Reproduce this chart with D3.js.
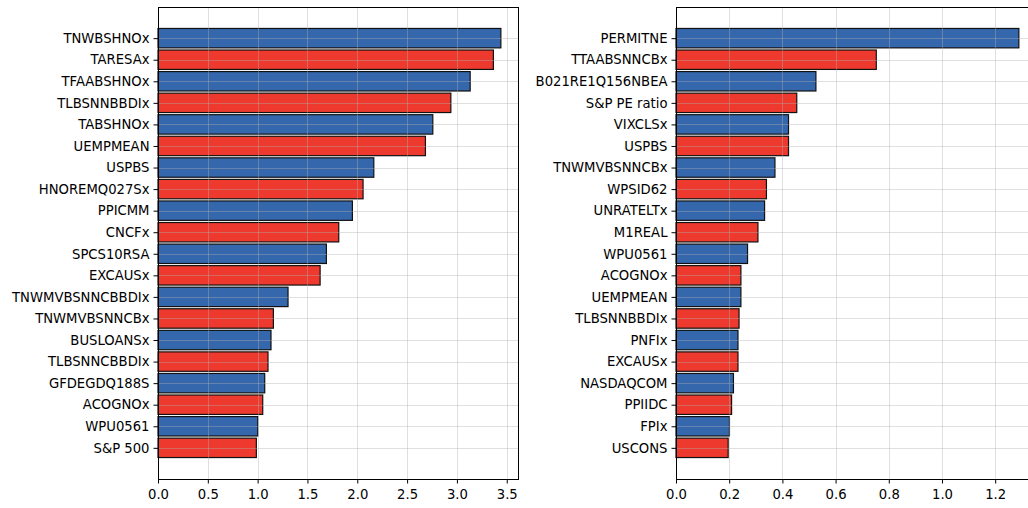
<!DOCTYPE html>
<html>
<head>
<meta charset="utf-8">
<script src="https://cdn.jsdelivr.net/npm/d3@7"></script>
<style>
  html, body { margin: 0; padding: 0; background: #fff; }
  svg { display: block; }
  text { font-family: "DejaVu Sans", sans-serif; }
</style>
</head>
<body>
<svg id="chart" width="1028" height="508"></svg>
<script>
// Feature importance, left panel
const leftNames = ["TNWBSHNOx", "TARESAx", "TFAABSHNOx", "TLBSNNBBDIx", "TABSHNOx",
  "UEMPMEAN", "USPBS", "HNOREMQ027Sx", "PPICMM", "CNCFx", "SPCS10RSA", "EXCAUSx",
  "TNWMVBSNNCBBDIx", "TNWMVBSNNCBx", "BUSLOANSx", "TLBSNNCBBDIx", "GFDEGDQ188S",
  "ACOGNOx", "WPU0561", "S&P 500"];
const leftValues = [3.441, 3.366, 3.133, 2.939, 2.758, 2.684, 2.166, 2.058, 1.951, 1.814,
  1.690, 1.627, 1.305, 1.158, 1.134, 1.104, 1.071, 1.051, 1.001, 0.987];
const leftTicks = [0, 0.5, 1.0, 1.5, 2.0, 2.5, 3.0, 3.5];

// Feature importance, right panel
const rightNames = ["PERMITNE", "TTAABSNNCBx", "B021RE1Q156NBEA", "S&P PE ratio", "VIXCLSx",
  "USPBS", "TNWMVBSNNCBx", "WPSID62", "UNRATELTx", "M1REAL", "WPU0561", "ACOGNOx",
  "UEMPMEAN", "TLBSNNBBDIx", "PNFIx", "EXCAUSx", "NASDAQCOM", "PPIIDC", "FPIx", "USCONS"];
const rightValues = [1.289, 0.753, 0.526, 0.454, 0.423, 0.423, 0.372, 0.340, 0.333, 0.308,
  0.269, 0.244, 0.244, 0.237, 0.233, 0.233, 0.216, 0.209, 0.201, 0.196];
const rightTicks = [0, 0.2, 0.4, 0.6, 0.8, 1.0, 1.2];

const barColors = ["#3567ad", "#ee3a2e"];

const svg = d3.select("#chart");
const plotTop = 7, plotBottom = 479;
const barH = 0.9;
const fontSize = 13.2;

function panel(x0, names, values, ticks) {
  const width = 360;
  const n = names.length;
  const pad = (n - 1 + barH) * 0.05;
  const x = d3.scaleLinear().domain([0, d3.max(values) * 1.05]).range([x0, x0 + width]);
  const y = d3.scaleLinear().domain([-barH / 2 - pad, n - 1 + barH / 2 + pad]).range([plotTop, plotBottom]);
  const bandPx = Math.abs(y(barH) - y(0));

  const g = svg.append("g");

  // bars
  g.selectAll("rect.bar").data(values).join("rect")
    .attr("class", "bar")
    .attr("x", x(0))
    .attr("y", (d, i) => y(i) - bandPx / 2)
    .attr("width", d => x(d) - x(0))
    .attr("height", bandPx)
    .attr("fill", (d, i) => barColors[i % 2])
    .attr("stroke", "#111")
    .attr("stroke-width", 1.2);

  // grid lines on top of bars
  const grid = g.append("g").attr("stroke", "#b0b0b0").attr("stroke-opacity", 0.4).attr("stroke-width", 1);
  grid.selectAll("line.vx").data(ticks).join("line")
    .attr("x1", d => Math.round(x(d)) + 0.5).attr("x2", d => Math.round(x(d)) + 0.5)
    .attr("y1", plotTop).attr("y2", plotBottom);
  grid.selectAll("line.hy").data(d3.range(n)).join("line")
    .attr("x1", x0).attr("x2", x0 + width)
    .attr("y1", d => Math.round(y(d)) + 0.5).attr("y2", d => Math.round(y(d)) + 0.5);

  // axes
  const xAxis = d3.axisBottom(x).tickValues(ticks).tickFormat(d3.format(".1f"))
    .tickSize(4.5).tickPadding(6);
  const gx = g.append("g").attr("transform", `translate(0,${plotBottom})`).call(xAxis);
  gx.select(".domain").remove();
  gx.selectAll("text").attr("font-size", fontSize).attr("fill", "#000")
    .attr("font-family", "DejaVu Sans, sans-serif");
  gx.selectAll("line").attr("stroke", "#000");

  const yAxis = d3.axisLeft(y).tickValues(d3.range(n)).tickFormat(i => names[i])
    .tickSize(4.5).tickPadding(4);
  const gy = g.append("g").attr("transform", `translate(${x0},0)`).call(yAxis);
  gy.select(".domain").remove();
  gy.selectAll("text").attr("font-size", fontSize).attr("fill", "#000")
    .attr("font-family", "DejaVu Sans, sans-serif");
  gy.selectAll("line").attr("stroke", "#000");

  // frame
  g.append("rect")
    .attr("x", x0 + 0.5).attr("y", plotTop + 0.5)
    .attr("width", width).attr("height", plotBottom - plotTop)
    .attr("fill", "none").attr("stroke", "#000").attr("stroke-width", 1);
}

panel(158, leftNames, leftValues, leftTicks);
panel(676, rightNames, rightValues, rightTicks);
</script>
</body>
</html>
